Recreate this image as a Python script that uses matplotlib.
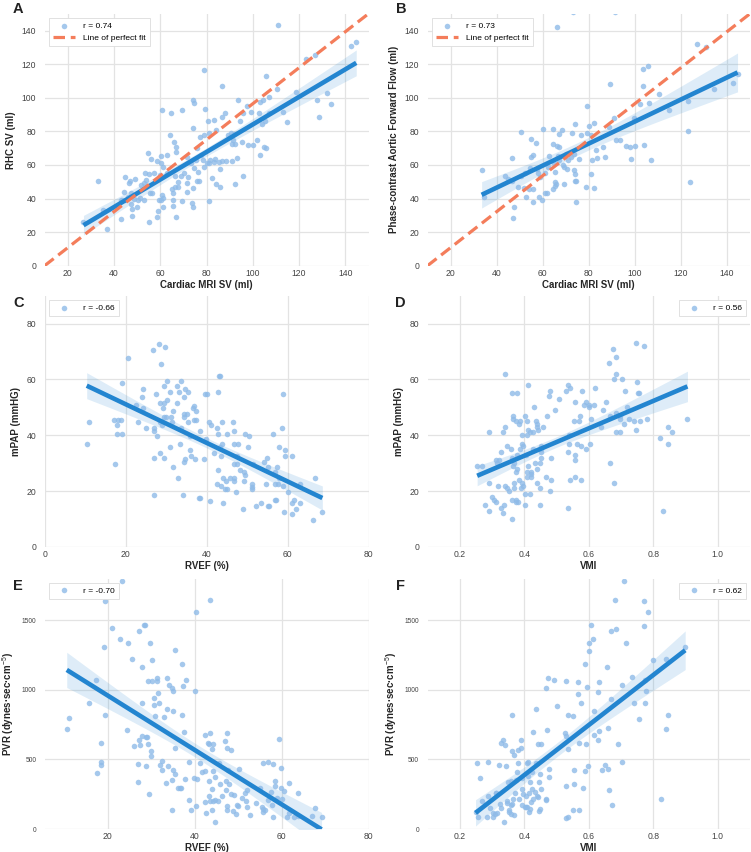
import numpy as np
import matplotlib
matplotlib.use("Agg")
import matplotlib.pyplot as plt

plt.rcParams['font.family'] = ['Liberation Sans', 'DejaVu Sans']
plt.rcParams['mathtext.fontset'] = 'custom'
plt.rcParams['mathtext.rm'] = 'Liberation Sans'
plt.rcParams['mathtext.bf'] = 'Liberation Sans:bold'

# ---------------- data ----------------
a_xy = [
(111,143),(142.6,130.8),(144.7,133.2),(123.2,123),(126.8,125.3),(78.8,116.7),(86.6,106.8),(105.6,113.2),
(110.6,105.3),(118.7,103.5),(132,103),(133.9,96.3),(127.9,98.5),(128.6,88.6),(74,98.5),(74.6,97.1),
(60.7,92.4),(69.2,92.4),(79.3,93),(64.6,91),(93.5,98.9),(97.6,95),(99.4,91.4),(95.8,91),(94.3,86.4),
(103,97.5),(104.5,98.9),(107,100.3),(102.6,90.6),(107,90.6),(113,91.2),(114.8,85.8),(80.5,86.2),(83.3,87),
(86.6,88.6),(88.1,91),(74.2,82.1),(64.2,77.7),(66,73.7),(67,70.4),(66.8,67.4),(77.1,76.7),(80.9,78.7),
(79,77.7),(84,81),(89.4,77.7),(90.4,78.9),(91.8,78.3),(91.5,74.7),(92.4,72.3),(90.8,72.3),(97.8,71.6),
(99.9,71.6),(95.5,73.7),(101.6,75.1),(103.2,65.8),(104.7,70.8),(105.5,70.2),(104,84.6),(105.3,86.2),
(54.8,66.8),(56.1,63.8),(58.4,62.2),(60.4,60.9),(60.1,65.4),(62.7,65.6),(61.3,58.9),(76,69.8),(77.4,65.8),
(75.6,62.8),(78.3,62.8),(78.8,58.9),(81.4,62.8),(83.2,61.8),(85.3,61.8),(86.7,62.6),(88.6,62.6),(90.8,62.6),
(93,64.4),(80.3,60.9),(81.2,61.2),(83.6,63.4),(85.8,57.7),(71.4,64.8),(73.1,60.9),(74.7,57.9),(76.4,55.7),
(53.5,54.9),(55.1,54.5),(57.4,54.9),(62.7,54.9),(66.3,53.3),(69,53.5),(70.4,54.9),(71.8,52.9),(67.8,50),
(71.4,49.4),(75.7,50.5),(76.9,50.5),(65,45.8),(66.5,46.6),(67.8,47),(65.7,43),(74.2,46),(71.6,43.8),
(82.3,52.3),(84,48.6),(85.8,47),(92.3,48.6),(95.8,53.3),(44.6,52.7),(48.9,51.7),(46.9,50.3),(46.6,49),
(51.6,48),(53.1,49),(53.8,51),(44.3,43.8),(47.3,43),(46,40.8),(44.9,39),(48.8,39.6),(50.2,39.4),(53.1,39.4),
(51.2,40.2),(55.5,43.4),(56.3,43),(59.4,39),(60.3,39),(60.6,41.8),(61,40.2),(42.9,39),(43.5,39.4),(47.3,36.9),
(47.8,33.7),(49.9,34.7),(59.2,32.7),(61,34.7),(65.3,39),(65.6,35.3),(69.2,38.7),(73.5,37.5),(74,34.9),
(80.9,38.7),(47.8,29.7),(43,28),(58.7,29.1),(67,29.1),(55,25.8),(36.8,22),(33.2,50.7),(26.8,26),(35.1,33.3),
(59.9,53.9)]

b_xy = [
(66.3,142.3),(73.1,151),(91.4,151),(126.8,132.2),(131.1,130.2),(105.8,118.7),(103.7,117.3),(89.4,108.4),
(103.7,106.8),(110.5,102.3),(134.2,105.4),(142.6,108.8),(144.6,114),(123.3,98.1),(114.8,92.4),(106.3,96.9),
(102.2,96.1),(79.3,95.3),(99.7,88.2),(90.8,88),(88.6,82.7),(122.9,80.3),(123.9,49.8),(50.4,79.3),(60.1,81.5),
(64.4,81.5),(68.5,80.7),(74.1,84.4),(80.3,83.2),(82.4,85),(67.3,78.3),(72.6,78.9),(76.5,77.7),(79.1,78.7),
(80.8,77.9),(54.8,75.7),(57,73.3),(64.6,72.2),(66.3,71.2),(67,70.8),(86.2,70.8),(83.2,69),(91.9,75.1),
(93.6,74.7),(96.1,71.4),(97.9,70.4),(99.9,71.2),(104.1,71.6),(98.4,63.8),(107,63),(81.3,63.2),(100.1,86.6),
(46.5,64),(55.1,64.8),(55.8,65.8),(62.9,65.4),(66.8,65.4),(70.2,66.4),(73.8,66.4),(75.7,63.6),(83.6,64.4),
(87.2,65),(33.5,56.9),(43.6,53.3),(45,51.9),(46.8,50.7),(50.4,53.3),(52.2,54.9),(54.4,58.3),(57.6,57.7),
(58,55.3),(59,52.9),(60.9,54.9),(62.3,58.9),(64.9,60.9),(67.3,62.8),(68.8,59.9),(70.6,57.7),(69.1,58.9),
(65.2,55.9),(73.5,56.9),(49.1,47),(51.8,46.4),(54,45.4),(56,45.8),(52.9,41),(56,37.9),(58.6,40.6),
(59.8,38.9),(60.9,43),(61.7,43.4),(64.3,45.4),(65.3,47.6),(65.9,48.4),(65.2,49.9),(69.2,48.8),(74,50.7),
(74.5,50.3),(74,54.3),(74.3,38.1),(78.6,47),(82.4,46),(81,54.7),(47.6,35.1),(47.1,28.5),(34.7,40.6),
(70.9,62.8),(72.4,64.8)]

c_xy = [
(28.2,72.6),(29.7,71.5),(26.7,70.6),(20.6,67.6),(28.8,65.6),(19.2,58.7),(24.2,56.5),(24.1,53.7),(24.4,49.6),
(22.5,50.7),(27.5,54.6),(30.2,59.6),(29.6,57.6),(30.9,55.6),(28.6,51.5),(29.4,51.5),(29.2,49.6),(30,46.7),
(29.4,46.7),(31.3,46.7),(30.2,52.7),(33.6,59.6),(32.7,57.6),(33.2,55.6),(32.7,51.7),(31.8,48.7),(34.7,56.5),
(35.3,55.6),(34.4,53.7),(37,50.6),(36.6,49.6),(37.5,48.7),(35.1,47.6),(34.5,47.6),(34.5,46.7),(37,45.6),
(37.3,45.6),(35.3,44.6),(31.4,44.6),(28.6,44.6),(29,43.7),(17.1,45.6),(18.1,45.6),(18.9,45.6),(17.9,43.7),
(10.9,44.6),(17.9,40.6),(19.2,40.6),(10.4,36.7),(17.3,29.6),(23.1,44.6),(25.1,42.6),(27.1,41.7),(27.8,39.6),
(26.9,42.6),(33.6,42.6),(31,35.7),(33.5,36.7),(34.5,30.6),(34.7,31.5),(36.2,32.7),(35.9,34.8),(35.8,39.6),
(37.1,31.5),(38.4,41.7),(39.4,31.5),(28.4,33.7),(29.6,31.8),(26.9,31.7),(31.8,28.7),(32.9,24.6),(26.9,18.7),
(34.3,18.7),(43,61.3),(43.3,61.3),(42.9,55.6),(39.7,54.6),(40.2,54.6),(40.6,44.6),(41.1,43.7),(42.5,42.6),
(42.9,40.6),(43.8,44.6),(45.1,40.6),(39.9,38.7),(43.8,36.7),(43.6,32.7),(41.9,33.7),(43.3,35.7),(46.5,44.6),
(46.9,41.7),(46.9,36.7),(47.8,36.7),(47.6,32.7),(46.8,29.8),(47.5,29.8),(49.6,40.6),(50.4,39.6),(50.2,35.7),
(48.2,27.6),(49.2,26.8),(49.4,25.8),(42.8,27.6),(42.6,22.6),(43.6,22),(44.1,24.6),(44.5,20.8),(44.9,23.8),
(45.7,24.6),(45.1,20.6),(46.8,24.6),(46.8,23.5),(47.2,19.6),(44.1,15.7),(48.9,13.6),(40.8,16.5),(38.5,17.6),
(38.2,17.6),(49.2,23.5),(51.3,22.6),(51.2,21.4),(51.3,20.6),(51.4,29.6),(54.3,30.6),(54.9,31.8),(55.3,28.6),
(54.6,22.6),(52.1,14.6),(53.5,15.6),(55.2,14.6),(55.5,14.6),(56.5,40.6),(59,54.8),(58.7,42.6),(57.9,35.7),
(59.3,32.7),(59.3,34.8),(57.4,28.7),(56.8,26.7),(56.9,22.6),(57.6,22.6),(56.8,16.7),(57.1,16.7),(57.9,24.6),
(58.9,21.8),(61.2,32.7),(60,19.6),(61.2,15.7),(61.5,16.7),(59.1,12.6),(61.2,11.7),(62.2,13.6),(63.2,22.6),
(63,15.7),(66.4,9.6),(66.9,24.6),(68.6,12.6)]

d_xy = [
(0.748,73),(0.772,71.9),(0.674,71),(0.686,68),(0.664,66),(0.341,61.9),(0.686,61.9),(0.678,60),(0.703,60),
(0.413,58),(0.536,58),(0.543,56.9),(0.529,56),(0.479,56),(0.619,56.9),(0.578,56),(0.712,56),(0.751,59),
(0.756,55),(0.753,55),(0.362,55),(0.376,55),(0.478,54),(0.508,53),(0.558,52),(0.593,52),(0.585,51),(0.601,51),
(0.617,51),(0.6,50),(0.652,52),(0.645,49),(0.429,50),(0.495,49),(0.471,47),(0.364,47),(0.401,47),(0.606,46),
(0.572,47),(0.555,45),(0.571,45),(0.366,46),(0.373,45),(0.410,45),(0.384,44),(0.387,45),(0.437,45),(0.440,44),
(0.439,43),(0.458,43),(0.341,43),(0.335,41),(0.291,41),(0.412,42),(0.418,41),(0.410,40),(0.392,40),(0.442,42),
(0.428,41),(0.637,43),(0.665,47),(0.683,48),(0.696,47),(0.719,50),(0.697,46),(0.726,46),(0.740,45),(0.760,45),
(0.780,46),(0.745,42),(0.710,44),(0.686,41),(0.697,41),(0.821,39),(0.846,43),(0.858,41),(0.846,37),(0.906,46),
(0.829,13),(0.666,30),(0.679,23),(0.564,37),(0.576,36),(0.592,35),(0.603,37),(0.540,37),(0.535,34),(0.538,40),
(0.558,33),(0.558,31),(0.556,25),(0.541,24),(0.575,24),(0.536,14),(0.393,37),(0.395,36),(0.427,35),(0.451,36),
(0.453,35),(0.452,34),(0.484,32),(0.451,32),(0.448,30),(0.432,30),(0.412,29),(0.406,33),(0.388,35),(0.377,33),
(0.362,32),(0.362,31),(0.369,30),(0.327,34),(0.316,30),(0.323,31),(0.359,35),(0.345,36),(0.377,28),(0.407,27),
(0.420,26),(0.421,27),(0.440,28),(0.467,25),(0.482,24),(0.421,25),(0.410,25),(0.385,24),(0.373,27),(0.364,29),
(0.440,23),(0.392,23),(0.367,23),(0.397,22),(0.339,22),(0.347,21),(0.369,21),(0.389,21),(0.450,21),(0.353,20),
(0.481,20),(0.270,29),(0.254,29),(0.311,31),(0.292,23),(0.318,22),(0.300,18),(0.306,17),(0.374,17),(0.382,16),
(0.361,17),(0.375,16),(0.402,15),(0.448,15),(0.290,13),(0.278,15),(0.312,16),(0.329,14),(0.333,12),(0.361,10),
(0.338,15),(0.417,19),(0.402,19)]

e_xy = [
(23.4,1783),(19.5,1637),(43.5,1647),(40.4,1561),(20.9,1442),(28.3,1468),(28.6,1468),(27.1,1423),(22.9,1363),
(24.6,1339),(29.7,1339),(19.1,1310),(35.4,1284),(30.2,1215),(25.6,1220),(27.9,1167),(37.2,1189),(17.4,1072),
(29.2,1060),(30.1,1062),(31.4,1088),(31.4,1060),(33.7,1084),(34.2,1038),(34.9,1012),(35,991),(37.3,1024),
(38,1072),(40.2,995),(31.5,974),(30.6,938),(30.6,890),(31.7,902),(27.9,907),(33.6,862),(35,850),(37.2,816),
(30.8,809),(33,802),(15.8,905),(19.5,821),(11.2,795),(10.6,721),(24.4,714),(37.5,695),(27.9,668),(28.9,659),
(27.3,637),(29.1,661),(18.4,618),(27.5,604),(29.3,613),(30,561),(30,525),(26,599),(18.4,482),(18.4,461),
(17.5,399),(27,470),(28.8,454),(32.5,487),(32.1,461),(32.4,427),(33.9,456),(35.1,427),(35.6,394),(35.6,585),
(38.8,485),(42.4,676),(43.5,692),(43,621),(43.4,613),(44.2,611),(44,573),(47.5,692),(47,633),(47.5,582),
(48.3,566),(41.2,475),(41.8,411),(42.3,418),(44.2,420),(45.6,475),(47.7,425),(50.3,430),(43.3,346),(44.8,377),
(44,291),(45.9,320),(47.2,344),(47.8,325),(47.2,282),(48.3,253),(49.1,243),(46.2,239),(43.4,236),(43.5,198),
(42.3,191),(44.8,208),(45.3,198),(44.2,198),(42.6,115),(43.9,138),(47.4,167),(47.5,138),(48.9,129),(49.5,107),
(49.9,162),(49.7,172),(44.7,48),(38.8,210),(39.2,138),(40.4,162),(37.7,356),(39.9,368),(40.5,356),(36.1,294),
(36.6,296),(36.8,298),(34.7,351),(33.4,327),(27,339),(29.6,251),(34.8,138),(50.8,220),(51.6,258),(52,282),
(51.8,198),(52.1,155),(52.7,103),(54.1,186),(55,298),(55.6,155),(55.8,477),(56.9,485),(58,470),(57.5,263),
(58.5,346),(58.5,310),(58.9,224),(59.8,294),(60,215),(59.4,645),(59.9,437),(60.6,275),(61.8,334),(63.8,258),
(61.3,86),(61.8,112),(62.8,84),(63.8,96),(58.1,84),(55.8,119),(56.3,134),(55.7,143),(56.8,208),(57.8,172),
(67.6,150),(67.1,96),(69.2,84)]

f_xy = [
(0.709,1782),(0.681,1646),(0.772,1636),(0.785,1560),(0.770,1462),(0.606,1467),(0.669,1421),(0.683,1440),
(0.601,1338),(0.613,1362),(0.715,1338),(0.602,1281),(0.899,1307),(0.588,1188),(0.657,1164),(0.798,1214),
(0.839,1219),(0.473,1083),(0.492,1071),(0.467,1014),(0.531,1061),(0.566,1057),(0.631,1057),(0.594,1021),
(0.703,1035),(0.735,1090),(0.775,1073),(0.778,995),(0.566,973),(0.628,987),(0.670,935),(0.740,906),(0.774,906),
(0.503,887),(0.577,902),(0.436,863),(0.537,820),(0.552,809),(0.615,847),(0.847,820),(0.755,794),(0.362,816),
(0.839,720),(0.660,723),(0.615,675),(0.632,706),(0.471,708),(0.426,694),(0.525,687),(0.531,670),(0.389,637),
(0.442,608),(0.453,608),(0.335,639),(0.329,615),(0.339,601),(0.362,560),(0.368,534),(0.380,570),(0.389,580),
(0.571,615),(0.590,611),(0.630,639),(0.691,613),(0.537,572),(0.253,477),(0.288,484),(0.323,463),(0.343,451),
(0.380,477),(0.408,477),(0.411,482),(0.436,472),(0.425,406),(0.476,429),(0.450,396),(0.477,372),(0.378,408),
(0.350,339),(0.359,346),(0.373,353),(0.392,363),(0.411,382),(0.418,341),(0.394,286),(0.372,262),(0.397,248),
(0.404,239),(0.415,258),(0.423,286),(0.433,265),(0.438,236),(0.446,339),(0.451,291),(0.467,208),(0.420,196),
(0.428,215),(0.393,174),(0.404,160),(0.401,155),(0.365,215),(0.384,215),(0.360,172),(0.324,179),(0.312,262),
(0.345,198),(0.347,189),(0.354,138),(0.352,119),(0.367,100),(0.360,107),(0.327,153),(0.303,112),(0.310,105),
(0.316,112),(0.293,153),(0.264,363),(0.268,198),(0.289,239),(0.311,258),(0.249,119),(0.257,84),(0.286,84),
(0.303,84),(0.337,48),(0.363,179),(0.408,155),(0.415,119),(0.418,143),(0.466,215),(0.446,126),(0.449,143),
(0.444,227),(0.555,425),(0.555,322),(0.531,310),(0.581,298),(0.588,420),(0.597,453),(0.640,425),(0.650,461),
(0.661,430),(0.703,484),(0.662,282),(0.673,172),(0.551,134),(0.571,138),(0.531,76),(0.536,84),(0.823,215)]

r_labels = ["r = 0.74", "r = 0.73", "r = -0.66", "r = 0.56", "r = -0.70", "r = 0.62"]
panel_letters = ["A", "B", "C", "D", "E", "F"]
xlabels = ["Cardiac MRI SV (ml)", "Cardiac MRI SV (ml)", "RVEF (%)", "VMI", "RVEF (%)", "VMI"]
ylabels = ["RHC SV (ml)", "Phase-contrast Aortic Forward Flow (ml)", "mPAP (mmHG)", "mPAP (mmHG)",
           r"PVR (dynes·sec·cm$^{-5}$)", r"PVR (dynes·sec·cm$^{-5}$)"]
xticks_list = [[20, 40, 60, 80, 100, 120, 140]] * 2 + [[0, 20, 40, 60, 80], [0.2, 0.4, 0.6, 0.8, 1.0],
               [20, 40, 60, 80], [0.2, 0.4, 0.6, 0.8, 1.0]]
yticks_list = [[0, 20, 40, 60, 80, 100, 120, 140]] * 2 + [[0, 20, 40, 60, 80]] * 2 + [[0, 500, 1000, 1500]] * 2
xlims = [(10, 150), (10, 150), (0, 80), (0.1, 1.1), (5.5, 80), (0.1, 1.1)]
ylims = [(0, 150), (0, 150), (0, 90), (0, 90), (0, 1800), (0, 1800)]
legend_locs = ["upper left", "upper left", "upper left", "upper right", "upper left", "upper right"]

# ---------------- style ----------------
W, H = 751, 852
PT = "#8fbbe8"
LINE = "#2385d0"
BAND = "#2385d0"
FIT = "#f47d5b"
TICKC = "#444444"
LABC = "#262626"

fig = plt.figure(figsize=(W / 100, H / 100), dpi=100)

# axes rectangles in pixels: left, top, right, bottom
rects = [(44.6, 13.7, 368.5, 265.7), (427.5, 13.7, 750, 265.7),
         (44.6, 295.6, 368.5, 547), (427.5, 295.6, 750, 547),
         (44.6, 578.5, 368.5, 829), (427.5, 578.5, 750, 829)]
letter_pos = [(13, 2), (396, 2), (13, 296), (395, 296), (13, 579), (396, 579)]
datasets = [a_xy, b_xy, c_xy, d_xy, e_xy, f_xy]


def add_reg(ax, x, y):
    x = np.asarray(x, float)
    y = np.asarray(y, float)
    n = len(x)
    b, a = np.polyfit(x, y, 1)
    xs = np.linspace(x.min(), x.max(), 200)
    yh = a + b * xs
    res = y - (a + b * x)
    s = np.sqrt(np.sum(res ** 2) / (n - 2))
    se = s * np.sqrt(1 / n + (xs - x.mean()) ** 2 / np.sum((x - x.mean()) ** 2))
    t = 1.976
    ax.fill_between(xs, yh - t * se, yh + t * se, color=BAND, alpha=0.15, lw=0, zorder=2)
    ax.plot(xs, yh, color=LINE, lw=3.3, solid_capstyle='butt', zorder=4)


for i in range(6):
    l, t, r, b = rects[i]
    ax = fig.add_axes([l / W, 1 - b / H, (r - l) / W, (b - t) / H])
    ax.set_facecolor("white")
    for sp in ax.spines.values():
        sp.set_visible(False)
    ax.grid(True, color="#e3e3e3", lw=0.9, zorder=0)
    ax.set_axisbelow(True)
    xy = np.array(datasets[i], float)
    sc = ax.scatter(xy[:, 0], xy[:, 1], s=16, color=PT, alpha=0.8, linewidths=0, zorder=3,
                    label=r_labels[i])
    handles = [sc]
    if i < 2:
        fl, = ax.plot([0, 1], [0, 1], transform=ax.transAxes, color=FIT, lw=2.3,
                      dashes=(3.6, 1.8), zorder=5, label="Line of perfect fit")
        handles.append(fl)
    add_reg(ax, xy[:, 0], xy[:, 1])
    ax.set_xlim(*xlims[i])
    ax.set_ylim(*ylims[i])
    ax.set_xticks(xticks_list[i])
    ax.set_yticks(yticks_list[i])
    if i in (3, 5):
        ax.set_xticklabels([f"{v:.1f}" for v in xticks_list[i]])
    ytfs = 4.8 if i >= 4 else 6.2
    ax.tick_params(axis='x', length=0, pad=2.5, labelsize=6.2, labelcolor=TICKC)
    ax.tick_params(axis='y', length=0, pad=6, labelsize=ytfs, labelcolor=TICKC)
    ax.set_xlabel(xlabels[i], fontsize=7, fontweight='bold', color=LABC, labelpad=1)
    ax.set_ylabel(ylabels[i], fontsize=7, fontweight='bold', color=LABC, labelpad=4)
    leg = ax.legend(handles=handles, loc=legend_locs[i], fontsize=6, frameon=True, fancybox=False,
                    framealpha=1, edgecolor="#dcdcdc", borderpad=0.5, handlelength=2.6,
                    handletextpad=1.0, labelspacing=0.5, borderaxespad=0.5)
    leg.get_frame().set_linewidth(0.6)
    leg.set_zorder(6)
    lx, ly = letter_pos[i]
    fig.text(lx / W, 1 - ly / H, panel_letters[i], fontsize=10.5, fontweight='bold',
             color="#222222", va='top', ha='left')

fig.savefig("out.png", dpi=100)
